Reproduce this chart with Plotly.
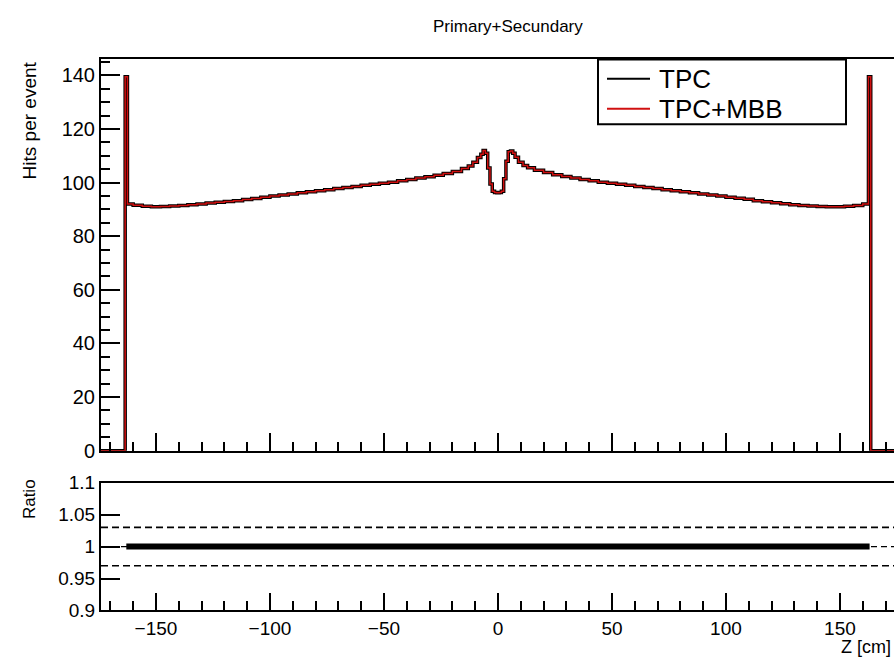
import numpy as np
import plotly.graph_objects as go

# ---- data ----
z_cm = [-175, -164, -163, -162, -158, -154, -150, -146, -142, -138, -134, -130, -126, -122,
        -118, -114, -110, -106, -102, -98, -94, -90, -86, -82, -78, -74, -70, -66, -62,
        -58, -54, -50, -46, -42, -38, -34, -30, -26, -22, -18, -14, -12, -10, -8, -7, -6,
        -5, -4, -3, -2, -1, 0, 1, 2, 3, 4, 5, 6, 7, 8, 10, 12, 14, 18, 22, 26, 30, 34,
        38, 42, 46, 50, 54, 58, 62, 66, 70, 74, 78, 82, 86, 90, 94, 98, 102, 106, 110,
        114, 118, 122, 126, 130, 134, 138, 142, 146, 150, 154, 158, 162, 163, 164, 175]
hits_tpc = [0, 0, 139.5, 92.0, 91.6, 91.2, 91.0, 91.1, 91.3, 91.5, 91.8, 92.0, 92.4, 92.7,
            93.0, 93.3, 93.7, 94.1, 94.6, 95.0, 95.4, 95.8, 96.2, 96.6, 97.0, 97.4, 97.8,
            98.2, 98.6, 99.0, 99.4, 99.8, 100.2, 100.7, 101.2, 101.7, 102.2, 102.8, 103.4,
            104.2, 105.3, 106.2, 107.6, 109.4, 110.6, 112.0, 111.0, 105.5, 99.5, 96.8, 96.3,
            96.2, 96.3, 96.8, 101.5, 108.0, 111.5, 111.8, 111.0, 109.5, 107.6, 106.4, 105.6,
            104.6, 103.8, 103.0, 102.3, 101.7, 101.2, 100.7, 100.2, 99.8, 99.4, 99.0, 98.6,
            98.2, 97.8, 97.4, 97.0, 96.6, 96.2, 95.8, 95.4, 95.0, 94.6, 94.2, 93.8, 93.3,
            92.9, 92.5, 92.1, 91.8, 91.5, 91.3, 91.1, 91.0, 91.0, 91.2, 91.5, 92.0, 139.5, 0, 0]
hits_tpc_mbb = list(hits_tpc)

ratio_band = [0.97, 1.03]
ratio_mask = [h > 0 for h in hits_tpc]
z_ratio = [z for z, m in zip(z_cm, ratio_mask) if m]
ratio_vals = [b / a for a, b, m in zip(hits_tpc, hits_tpc_mbb, ratio_mask) if m]

x_ticks = [-150, -100, -50, 0, 50, 100, 150]
ratio_ticks = [0.9, 0.95, 1.0, 1.05, 1.1]
ratio_ticktext = ["0.9", "0.95", "1", "1.05", "1.1"]

# ---- layout geometry (pixels) ----
W, H = 894, 667
def py(y):
    return 1 - y / H

FONT = "Liberation Sans, Arial, sans-serif"
X_RANGE = [-174.1, 173.7]

fig = go.Figure()

fig.add_trace(go.Scatter(x=z_cm, y=hits_tpc, mode="lines", name="TPC",
                         line=dict(color="black", width=3.5, shape="hvh"),
                         xaxis="x", yaxis="y", showlegend=False))
fig.add_trace(go.Scatter(x=z_cm, y=hits_tpc_mbb, mode="lines", name="TPC+MBB",
                         line=dict(color="#d01010", width=1.5, shape="hvh"),
                         xaxis="x", yaxis="y", showlegend=False))

# ratio panel
for yv in ratio_band:
    fig.add_trace(go.Scatter(x=X_RANGE, y=[yv, yv], mode="lines",
                             line=dict(color="black", width=1.6, dash="7px,4px"),
                             xaxis="x2", yaxis="y2", showlegend=False, hoverinfo="skip"))
fig.add_trace(go.Scatter(x=X_RANGE, y=[1, 1], mode="lines",
                         line=dict(color="black", width=1.2, dash="6px,4px"),
                         xaxis="x2", yaxis="y2", showlegend=False, hoverinfo="skip"))
fig.add_trace(go.Scatter(x=z_ratio, y=ratio_vals, mode="lines", name="Ratio",
                         line=dict(color="black", width=6),
                         xaxis="x2", yaxis="y2", showlegend=False))

axis_common = dict(showgrid=False, zeroline=False, showline=True, linecolor="black",
                   linewidth=2, ticks="inside", tickcolor="black", tickwidth=1.5)

fig.update_layout(
    width=W, height=H, margin=dict(l=0, r=0, t=0, b=0),
    paper_bgcolor="white", plot_bgcolor="white",
    font=dict(family=FONT, color="black"),
    xaxis=dict(domain=[101 / W, 1], range=X_RANGE, anchor="y", mirror=True,
               tickvals=x_ticks, showticklabels=False, ticklen=18,
               minor=dict(dtick=10, tick0=0, ticks="inside", ticklen=9,
                          tickcolor="black", tickwidth=1.5),
               **axis_common),
    yaxis=dict(domain=[py(455), py(51)], range=[0, 146], anchor="x",
               tickvals=[0, 20, 40, 60, 80, 100, 120, 140], ticklen=19,
               tickfont=dict(size=20),
               minor=dict(dtick=5, tick0=0, ticks="inside", ticklen=9,
                          tickcolor="black", tickwidth=1.5),
               **axis_common),
    xaxis2=dict(domain=[101 / W, 1], range=X_RANGE, anchor="y2", mirror=True,
                tickvals=x_ticks, ticklen=17, tickfont=dict(size=19),
                minor=dict(dtick=10, tick0=0, ticks="inside", ticklen=9,
                           tickcolor="black", tickwidth=1.5),
                **axis_common),
    yaxis2=dict(domain=[py(620), py(488)], range=[0.9, 1.1], anchor="x2",
                tickvals=ratio_ticks, ticktext=ratio_ticktext, ticklen=19,
                tickfont=dict(size=19),
                **axis_common),
)

# legend box (drawn like ROOT's TLegend)
LX0, LX1, LY0, LY1 = 598, 846, 51, 118
fig.add_shape(type="rect", xref="paper", yref="paper",
              x0=LX0 / W, x1=LX1 / W, y0=py(LY1), y1=py(LY0),
              line=dict(color="black", width=2), fillcolor="white", layer="above")
legend_rows = [("TPC", "black", 71), ("TPC+MBB", "#d01010", 102)]
for label, col, yy in legend_rows:
    fig.add_shape(type="line", xref="paper", yref="paper",
                  x0=607 / W, x1=650 / W, y0=py(yy), y1=py(yy),
                  line=dict(color=col, width=2), layer="above")
    fig.add_annotation(text=label, xref="paper", yref="paper", x=657 / W, y=py(yy),
                       xanchor="left", yanchor="middle", showarrow=False,
                       font=dict(size=26, family=FONT, color="black"))

# titles
fig.add_annotation(text="Primary+Secundary", xref="paper", yref="paper",
                   x=508 / W, y=py(17), xanchor="center", yanchor="middle",
                   showarrow=False, font=dict(size=17, family=FONT))
fig.add_annotation(text="Hits per event", xref="paper", yref="paper",
                   x=29 / W, y=py(114), xanchor="center", yanchor="middle",
                   textangle=-90, showarrow=False, font=dict(size=19, family=FONT))
fig.add_annotation(text="Ratio", xref="paper", yref="paper",
                   x=29 / W, y=py(505), xanchor="center", yanchor="middle",
                   textangle=-90, showarrow=False, font=dict(size=17, family=FONT))
fig.add_annotation(text="Z [cm]", xref="paper", yref="paper",
                   x=893 / W, y=py(658), xanchor="right", yanchor="middle",
                   showarrow=False, font=dict(size=18, family=FONT))

fig.write_html("out.html")
